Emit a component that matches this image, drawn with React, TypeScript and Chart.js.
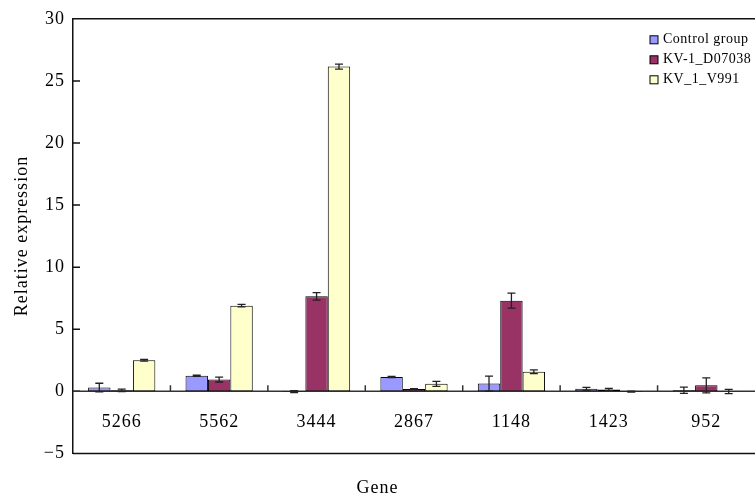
import React, { useEffect, useRef } from "react";
import { Chart, registerables } from "chart.js";

Chart.register(...registerables);

const categories = ["5266", "5562", "3444", "2867", "1148", "1423", "952"];
const seriesLabels = ["Control group", "KV-1_D07038", "KV_1_V991"];
const controlValues = [0.3, 1.25, -0.03, 1.15, 0.62, 0.2, 0.08];
const controlErrors = [0.35, 0.05, 0.08, 0.05, 0.6, 0.12, 0.25];
const d07038Values = [0.08, 0.95, 7.65, 0.18, 7.3, 0.15, 0.48];
const d07038Errors = [0.1, 0.2, 0.3, 0.03, 0.6, 0.08, 0.6];
const v991Values = [2.5, 6.9, 26.15, 0.6, 1.58, -0.03, -0.02];
const v991Errors = [0.07, 0.1, 0.2, 0.2, 0.15, 0.04, 0.17];
const yTicks = [-5, 0, 5, 10, 15, 20, 25, 30];

const colors = ["#9999FF", "#993366", "#FFFFCC"];
const FONT = "'Liberation Serif', 'Times New Roman', serif";

const framePlugin = {
  id: "frame",
  beforeDraw(chart: any) {
    chart.ctx.letterSpacing = "1px";
  },
  beforeDatasetsDraw(chart: any) {
    const { ctx, chartArea, scales } = chart;
    const y = scales.y;
    const x = scales.x;
    ctx.save();
    ctx.strokeStyle = "#111";
    ctx.lineWidth = 1.5;
    ctx.beginPath();
    ctx.moveTo(chartArea.left, chartArea.top);
    ctx.lineTo(chartArea.right, chartArea.top);
    ctx.moveTo(chartArea.left, chartArea.bottom);
    ctx.lineTo(chartArea.right, chartArea.bottom);
    yTicks.forEach((v) => {
      const py = y.getPixelForValue(v);
      ctx.moveTo(chartArea.left, py);
      ctx.lineTo(chartArea.left + 7, py);
    });
    ctx.stroke();
    const zy = y.getPixelForValue(0);
    ctx.strokeStyle = "#333";
    ctx.beginPath();
    ctx.moveTo(chartArea.left, zy);
    ctx.lineTo(chartArea.right, zy);
    for (let i = 0; i < categories.length - 1; i++) {
      const px = x.getPixelForValue(i + 0.5);
      ctx.moveTo(px, zy);
      ctx.lineTo(px, zy - 6);
    }
    ctx.stroke();
    ctx.restore();
  },
  afterDatasetsDraw(chart: any) {
    const { ctx, scales } = chart;
    const y = scales.y;
    const errs = [controlErrors, d07038Errors, v991Errors];
    ctx.save();
    ctx.strokeStyle = "#222";
    ctx.lineWidth = 1.3;
    chart.data.datasets.forEach((ds: any, i: number) => {
      const meta = chart.getDatasetMeta(i);
      meta.data.forEach((el: any, j: number) => {
        const v = ds.data[j];
        const e = errs[i][j];
        const top = y.getPixelForValue(v + e);
        const bot = y.getPixelForValue(v - e);
        ctx.beginPath();
        ctx.moveTo(el.x, top);
        ctx.lineTo(el.x, bot);
        ctx.moveTo(el.x - 4, top);
        ctx.lineTo(el.x + 4, top);
        ctx.moveTo(el.x - 4, bot);
        ctx.lineTo(el.x + 4, bot);
        ctx.stroke();
      });
    });
    ctx.restore();
  },
  afterDraw(chart: any) {
    const { ctx, chartArea } = chart;
    ctx.save();
    ctx.letterSpacing = "0.5px";
    ctx.font = `14px ${FONT}`;
    ctx.textBaseline = "middle";
    ctx.textAlign = "left";
    const bx = chartArea.right - 105;
    chart.data.datasets.forEach((ds: any, i: number) => {
      const cy = chartArea.top + 21 + i * 20;
      ctx.fillStyle = ds.backgroundColor;
      ctx.fillRect(bx, cy - 4, 8, 8);
      ctx.strokeStyle = "#000";
      ctx.lineWidth = 1;
      ctx.strokeRect(bx, cy - 4, 8, 8);
      ctx.fillStyle = "#000";
      ctx.fillText(ds.label, bx + 13, cy);
    });
    ctx.restore();
  },
};

export default function App() {
  const ref = useRef<HTMLCanvasElement>(null);
  useEffect(() => {
    if (!ref.current) return;
    const values = [controlValues, d07038Values, v991Values];
    const chart = new Chart(ref.current, {
      type: "bar",
      data: {
        labels: categories,
        datasets: seriesLabels.map((label, i) => ({
          label,
          data: values[i],
          backgroundColor: colors[i],
          borderColor: "#000",
          borderWidth: 1,
          borderSkipped: false,
          categoryPercentage: 0.69,
          barPercentage: 1.0,
        })),
      },
      options: {
        responsive: false,
        animation: false,
        layout: { padding: { left: 0, top: 17, right: 0, bottom: 0 } },
        plugins: {
          legend: { display: false },
          tooltip: { enabled: false },
          title: {
            display: true,
            text: "Gene",
            position: "bottom",
            color: "#000",
            font: { family: FONT, size: 18, weight: "normal" },
            padding: { top: 24, bottom: 1 },
          },
        },
        scales: {
          x: {
            position: { y: 0 } as any,
            afterFit(scale: any) {
              scale.height = 0;
            },
            grid: { display: false, drawTicks: false },
            border: { display: false },
            ticks: {
              color: "#000",
              padding: 20,
              font: { family: FONT, size: 18 },
              maxRotation: 0,
            },
          },
          y: {
            min: -5,
            max: 30,
            afterFit(scale: any) {
              scale.width = 73;
            },
            afterBuildTicks(scale: any) {
              scale.ticks = yTicks.map((v) => ({ value: v }));
            },
            grid: { display: false, drawTicks: false },
            border: { display: true, color: "#111", width: 1.5 },
            ticks: {
              color: "#000",
              padding: 8,
              font: { family: FONT, size: 18 },
              callback: (v: any) => String(v).replace("-", "\u2212"),
            },
            title: {
              display: true,
              text: "Relative expression",
              color: "#000",
              font: { family: FONT, size: 18 },
              padding: { top: 11, bottom: 0 },
            },
          },
        },
      },
      plugins: [framePlugin],
    });
    return () => chart.destroy();
  }, []);
  return (
    <div style={{ position: "absolute", left: 0, top: 0, width: 755, height: 500, background: "#fff" }}>
      <canvas ref={ref} width={755} height={500} style={{ display: "block" }} />
    </div>
  );
}
